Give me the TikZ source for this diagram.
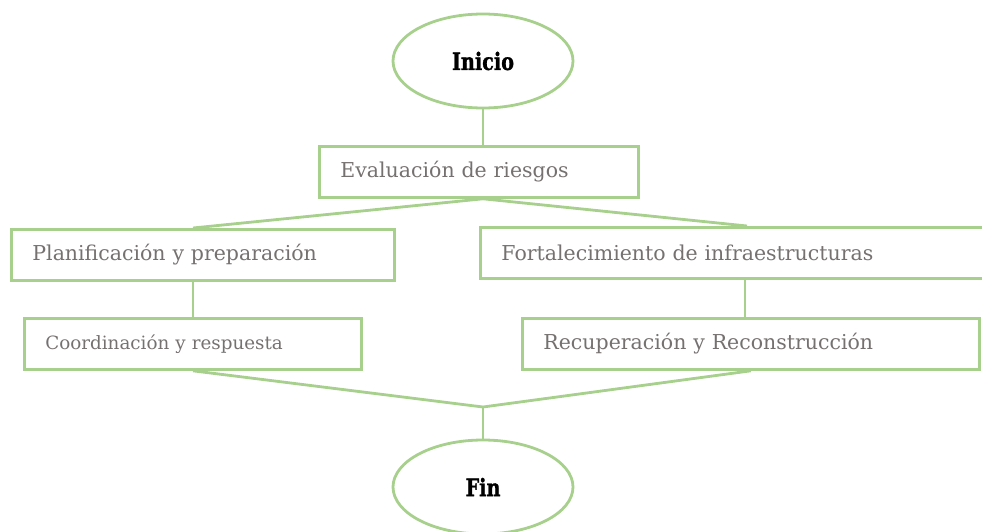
\documentclass[tikz,border=0pt]{standalone}
\usepackage{fontspec}
\setmainfont{DejaVu Serif}
\newfontfamily\boldslab[FakeStretch=0.8,FakeBold=1.2]{DejaVu Serif Bold}
\usetikzlibrary{shapes.geometric,calc}
\definecolor{lgreen}{HTML}{A8D08D}
\definecolor{tgray}{HTML}{767171}
\tikzset{
  flow/.style={draw=lgreen, line width=2.8pt},
  stepbox/.style={draw=lgreen, line width=2.8pt, rectangle, anchor=north west,
    minimum height=51pt, inner xsep=21pt, inner ysep=0pt, align=left,
    text=tgray, font=\fontsize{20.5}{24}\selectfont},
  term/.style={draw=lgreen, line width=2.8pt, ellipse, inner sep=0pt,
    minimum width=180pt, minimum height=94pt,
    font=\boldslab\fontsize{24}{28}\selectfont, text=black},
}
\begin{document}
\begin{tikzpicture}[x=1pt,y=-1pt]
\useasboundingbox (0,0) rectangle (982,532);
\clip (0,0) rectangle (982,532);
\node[term] (ini) at (483,61) {Inicio};
\node[stepbox, text width=277pt] (eval) at (318,145) {Evaluación de riesgos};
\node[stepbox, text width=341pt] (plan) at (10,228) {Planificación y preparación};
\node[stepbox, text width=490pt] (fort) at (479,226) {Fortalecimiento de infraestructuras};
\node[stepbox, text width=295pt, font=\fontsize{18.3}{22}\selectfont] (coord) at (23,317) {Coordinación y respuesta};
\node[stepbox, text width=415pt] (recu) at (521,317) {Recuperación y Reconstrucción};
\node[term] (fin) at (483,487) {Fin};
\coordinate (evin) at (ini.south |- eval.north);
\coordinate (evout) at (ini.south |- eval.south);
\coordinate (planin) at ($(plan.north west)+(183,0)$);
\coordinate (fortin) at ($(fort.north west)+(268,0)$);
\coordinate (fortout) at ($(fort.south west)+(266,0)$);
\coordinate (m) at (483,407);
\draw[flow] (ini.south) -- (evin);
\draw[flow] (planin) -- (evout) -- (fortin);
\draw[flow] (planin |- plan.south) -- (coord.north -| planin);
\draw[flow] (fortout) -- (recu.north -| fortout);
\draw[flow] (coord.south) -- (m) -- (recu.south);
\draw[flow] (m) -- (fin.north);
\end{tikzpicture}
\end{document}
